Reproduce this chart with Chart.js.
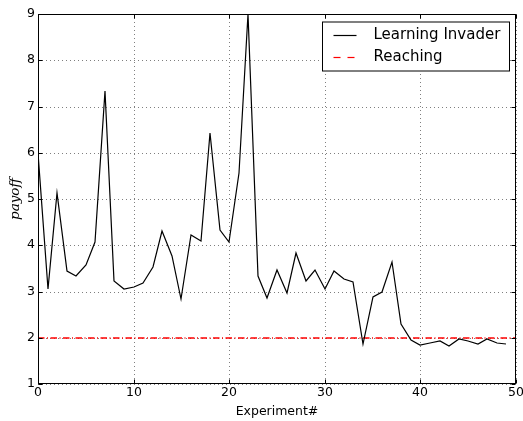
<!DOCTYPE html>
<html><head><meta charset="utf-8">
<script src="https://cdn.jsdelivr.net/npm/chart.js@4"></script>
<style>html,body{margin:0;padding:0;background:#fff;}canvas{display:block;}</style>
</head><body>
<canvas id="c" width="523" height="421"></canvas>
<script>
const experiments = [0,1,2,3,4,5,6,7,8,9,10,11,12,13,14,15,16,17,18,19,20,21,22,23,24,25,26,27,28,29,30,31,32,33,34,35,36,37,38,39,40,41,42,43,44,45,46,47,48,49];
const payoff = [6.0,3.05,5.12,3.44,3.33,3.58,4.07,7.34,3.22,3.05,3.10,3.19,3.52,4.31,3.76,2.83,4.23,4.10,6.42,4.34,4.07,5.57,9.0,3.33,2.87,3.47,2.97,3.84,3.22,3.46,3.06,3.44,3.26,3.21,1.87,2.88,3.0,3.64,2.29,1.96,1.84,1.89,1.92,1.82,1.97,1.94,1.87,1.97,1.89,1.87];
const reachingX = [0, 50];
const reachingY = [2, 2];
const seriesLabels = ['Learning Invader', 'Reaching'];
const xTitle = 'Experiment#';
const yTitle = 'payoff';

const tickFont = {family:'DejaVu Sans', size:12.5};
const legendDash = [[], [7,7]];

const framePlugin = {
  id:'frame',
  afterDatasetsDraw(chart){
    const {ctx, chartArea:a, scales} = chart;
    ctx.save();
    ctx.strokeStyle = '#000';
    ctx.lineWidth = 1;
    const L = Math.round(a.left)+0.5, R = Math.round(a.right)-0.5, T = Math.round(a.top)+0.5, B = Math.round(a.bottom)-0.5;
    ctx.beginPath();
    scales.x.ticks.forEach(t=>{
      const px = Math.round(scales.x.getPixelForValue(t.value))+0.5;
      ctx.moveTo(px,B); ctx.lineTo(px,B-4);
      ctx.moveTo(px,T); ctx.lineTo(px,T+4);
    });
    scales.y.ticks.forEach(t=>{
      const py = Math.round(scales.y.getPixelForValue(t.value))+0.5;
      ctx.moveTo(L,py); ctx.lineTo(L+4,py);
      ctx.moveTo(R,py); ctx.lineTo(R-4,py);
    });
    ctx.stroke();
    ctx.strokeRect(L, T, R-L, B-T);
    // legend
    const bx = Math.round(a.right) - 193.5, by = T + 7.5, bw = 187, bh = 49;
    ctx.fillStyle = '#fff';
    ctx.fillRect(bx, by, bw, bh);
    ctx.strokeRect(bx, by, bw, bh);
    ctx.font = '15px "DejaVu Sans"';
    ctx.textBaseline = 'middle';
    ctx.textAlign = 'left';
    chart.data.datasets.forEach((ds,i)=>{
      const y = Math.round(by + 12.5 + i*22.5) + 0.5;
      ctx.strokeStyle = ds.borderColor;
      ctx.lineWidth = 1.2;
      ctx.setLineDash(legendDash[i]);
      ctx.beginPath();
      ctx.moveTo(bx+11, y); ctx.lineTo(bx+34, y);
      ctx.stroke();
      ctx.setLineDash([]);
      ctx.fillStyle = '#000';
      ctx.fillText(ds.label, bx+51, y);
    });
    ctx.restore();
  }
};

new Chart(document.getElementById('c').getContext('2d'), {
  type:'line',
  data:{datasets:[
    {label:seriesLabels[0], data:experiments.map((x,i)=>({x, y:payoff[i]})), borderColor:'#000000', borderWidth:1.2, pointRadius:0, tension:0, fill:false},
    {label:seriesLabels[1], data:reachingX.map((x,i)=>({x, y:reachingY[i]})), borderColor:'#ff0000', borderWidth:1.5, borderDash:[6.5,2.5,1,2.5], pointRadius:0, tension:0, fill:false}
  ]},
  options:{
    responsive:false, animation:false, devicePixelRatio:1,
    layout:{padding:{left:0,right:7,top:14,bottom:0}},
    plugins:{legend:{display:false}, tooltip:{enabled:false}},
    scales:{
      x:{type:'linear', min:0, max:50, alignToPixels:true,
        ticks:{stepSize:10, color:'#000', font:tickFont, padding:1, maxRotation:0},
        grid:{color:'rgba(0,0,0,0.5)', lineWidth:1, drawTicks:false},
        border:{display:false, dash:[1,3]},
        title:{display:true, text:xTitle, color:'#000', font:tickFont, padding:{top:0,bottom:2}},
        afterFit(s){ s.height = 37; s.paddingLeft = 0; s.paddingRight = 0; }
      },
      y:{type:'linear', min:1, max:9, alignToPixels:true,
        ticks:{stepSize:1, color:'#000', font:tickFont, padding:3},
        grid:{color:'rgba(0,0,0,0.5)', lineWidth:1, drawTicks:false},
        border:{display:false, dash:[1,3]},
        title:{display:true, text:yTitle, color:'#000', font:{family:'DejaVu Serif', size:13.5, style:'italic'}, padding:{top:7,bottom:0}},
        afterFit(s){ s.width = 38; }
      }
    }
  },
  plugins:[framePlugin]
});
</script>
</body></html>
